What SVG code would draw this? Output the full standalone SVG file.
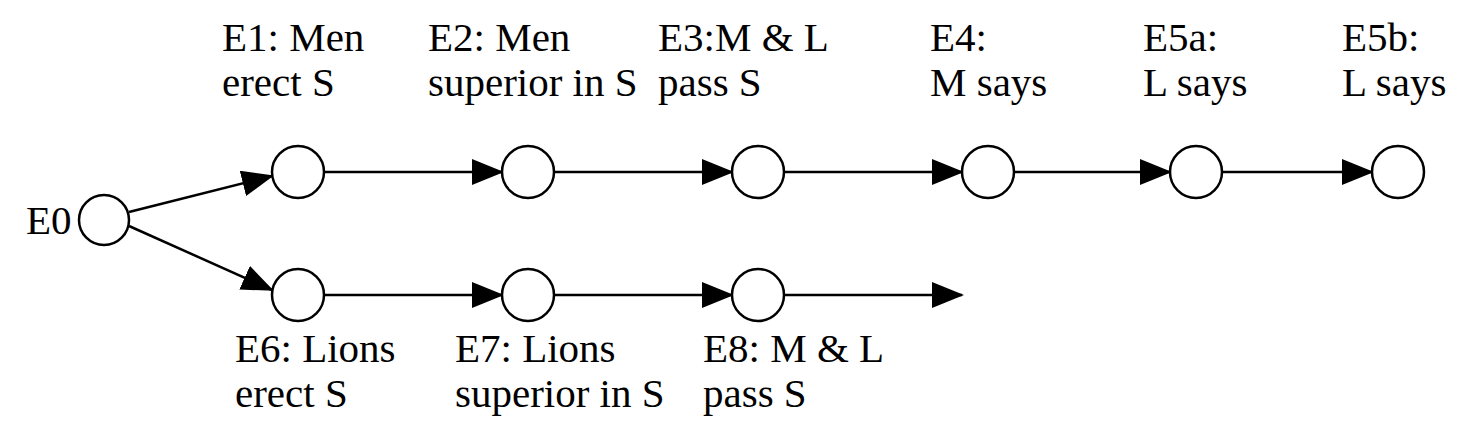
<svg xmlns="http://www.w3.org/2000/svg" width="1479" height="438" viewBox="0 0 1479 438">
<style>
text{font-family:"Liberation Serif",serif;font-size:41px;fill:#000}
circle{fill:#fff;stroke:#000;stroke-width:2.5}
.c line{stroke:#000;stroke-width:2.5;marker-end:url(#a)}
</style>
<defs><marker id="a" markerUnits="userSpaceOnUse" markerWidth="32" markerHeight="26" refX="30" refY="13" orient="auto"><path d="M0,0 L32,13 L0,26 Z"/></marker></defs>
<rect width="1479" height="438" fill="#fff"/>
<g class="c">
<line x1="129" y1="212" x2="272" y2="176"/>
<line x1="129" y1="226" x2="272" y2="290"/>
<line x1="324" y1="172" x2="502" y2="172"/>
<line x1="554" y1="172" x2="732" y2="172"/>
<line x1="784" y1="172" x2="962" y2="172"/>
<line x1="1014" y1="172" x2="1170" y2="172"/>
<line x1="1222" y1="172" x2="1372" y2="172"/>
<line x1="324" y1="295" x2="502" y2="295"/>
<line x1="554" y1="295" x2="732" y2="295"/>
<line x1="784" y1="295" x2="962" y2="295"/>
</g>
<g id="E0"><circle cx="104" cy="220" r="25"/><text x="26" y="234">E0</text></g>
<g id="E1"><circle cx="298" cy="172" r="26"/><text x="222" y="51">E1: Men</text><text x="222" y="96">erect S</text></g>
<g id="E2"><circle cx="528" cy="172" r="26"/><text x="428" y="51">E2: Men</text><text x="428" y="96">superior in S</text></g>
<g id="E3"><circle cx="758" cy="172" r="26"/><text x="658" y="51">E3:M &amp; L</text><text x="658" y="96">pass S</text></g>
<g id="E4"><circle cx="988" cy="172" r="26"/><text x="930" y="51">E4:</text><text x="930" y="96">M says</text></g>
<g id="E5a"><circle cx="1196" cy="172" r="26"/><text x="1143" y="51">E5a:</text><text x="1143" y="96">L says</text></g>
<g id="E5b"><circle cx="1398" cy="172" r="26"/><text x="1342" y="51">E5b:</text><text x="1342" y="96">L says</text></g>
<g id="E6"><circle cx="298" cy="295" r="26"/><text x="235" y="362">E6: Lions</text><text x="235" y="407">erect S</text></g>
<g id="E7"><circle cx="528" cy="295" r="26"/><text x="455" y="362">E7: Lions</text><text x="455" y="407">superior in S</text></g>
<g id="E8"><circle cx="758" cy="295" r="26"/><text x="703" y="362">E8: M &amp; L</text><text x="703" y="407">pass S</text></g>
</svg>
